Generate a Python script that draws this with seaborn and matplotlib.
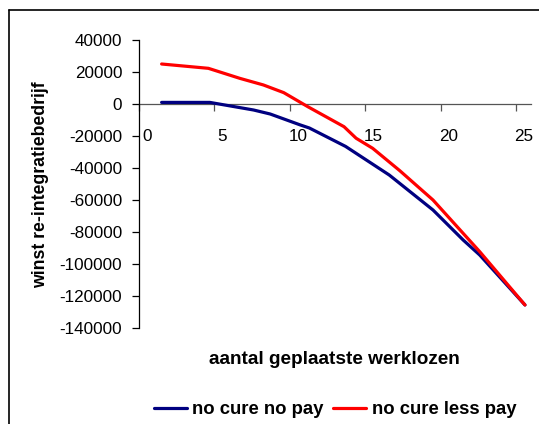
import pandas as pd
import matplotlib
matplotlib.use("Agg")
import matplotlib.pyplot as plt
import matplotlib.transforms as mtransforms
import seaborn as sb

# data
x_no_pay = [1.5, 4.7, 7.6, 8.7, 10.7, 11.3, 13.7, 16.6, 19.5, 21.5, 22.6, 25.6]
y_no_pay = [1000, 1000, -3750, -6250, -13100, -15000, -26500, -44400, -66250, -85000, -94400, -125600]

x_less_pay = [1.5, 4.6, 6.7, 8.25, 9.6, 11.2, 13.6, 14.4, 15.5, 17.3, 19.5, 22.6, 25.6]
y_less_pay = [25000, 22300, 16000, 11900, 7100, -1700, -14200, -21400, -27700, -41700, -60000, -92300, -125600]

x_ticks = [0, 5, 10, 15, 20, 25]
y_ticks = [40000, 20000, 0, -20000, -40000, -60000, -80000, -100000, -120000, -140000]

series_names = ["no cure no pay", "no cure less pay"]

df = pd.concat([
    pd.DataFrame({"x": x_no_pay, "y": y_no_pay, "serie": series_names[0]}),
    pd.DataFrame({"x": x_less_pay, "y": y_less_pay, "serie": series_names[1]}),
])

sb.set_style("white")
plt.rcParams["font.family"] = ["Liberation Sans", "DejaVu Sans"]
plt.rcParams["text.color"] = "black"

W, H = 539, 424
fig = plt.figure(figsize=(W / 100, H / 100), dpi=100)
ax = fig.add_axes([139 / W, 1 - 328 / H, (531 - 139) / W, (328 - 40) / H])

sb.lineplot(data=df, x="x", y="y", hue="serie", estimator=None, sort=False,
            palette={series_names[0]: "#000080", series_names[1]: "#ff0000"},
            linewidth=2.3, ax=ax, legend=False)

ax.set_xlim(0, 26)
ax.set_ylim(-140000, 40000)
ax.set_xticks(x_ticks)
ax.set_yticks(y_ticks)
ax.set_xticklabels([str(t) for t in x_ticks])
ax.set_yticklabels([str(t) for t in y_ticks])

# x axis sits on y = 0
for s in ["top", "right"]:
    ax.spines[s].set_visible(False)
ax.spines["bottom"].set_position(("data", 0))
ax.spines["bottom"].set_color("#555555")
ax.spines["bottom"].set_linewidth(0.9)
ax.spines["bottom"].set_zorder(1)
ax.spines["left"].set_color("black")
ax.spines["left"].set_linewidth(0.9)

ax.tick_params(axis="both", which="both", direction="out", length=5, width=0.9,
               labelsize=12.3, colors="black")
ax.tick_params(axis="x", pad=13, color="#555555")
ax.tick_params(axis="y", pad=7)
ax.xaxis.set_ticks_position("bottom")
ax.yaxis.set_ticks_position("left")

# excel puts the x labels slightly right of the ticks
offset = mtransforms.ScaledTranslation(8 / 100, 0, fig.dpi_scale_trans)
for lab in ax.get_xticklabels():
    lab.set_transform(lab.get_transform() + offset)

ax.set_xlabel("")
ax.set_ylabel("")
fig.text(334 / W, 1 - 360 / H, "aantal geplaatste werklozen", ha="center", va="center",
         fontsize=13.7, fontweight="bold", color="black")
fig.text(41 / W, 1 - 185 / H, "winst re-integratiebedrijf", ha="center", va="center",
         rotation=90, fontsize=12.7, fontweight="bold", color="black")

# legend
handles = [plt.Line2D([], [], color="#000080", lw=2.3),
           plt.Line2D([], [], color="#ff0000", lw=2.3)]
leg = fig.legend(handles, series_names, loc="center", bbox_to_anchor=(335 / W, 1 - 410 / H),
                 ncol=2, frameon=False, prop={"size": 13.3, "weight": "bold"},
                 handlelength=1.8, handletextpad=0.3, columnspacing=0.5)
for t in leg.get_texts():
    t.set_color("black")

# chart area border (only top and left fall inside the picture)
fig.add_artist(plt.Line2D([9 / W, 1], [1 - 10 / H, 1 - 10 / H], color="black", lw=1.2))
fig.add_artist(plt.Line2D([9 / W, 9 / W], [0, 1 - 10 / H], color="black", lw=1.2))

fig.savefig("out.png", dpi=100)
